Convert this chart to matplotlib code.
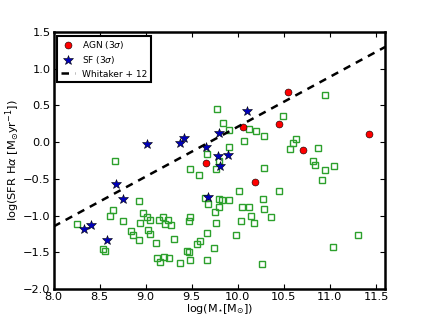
import matplotlib
matplotlib.use("Agg")
import matplotlib.pyplot as plt
import numpy as np

# green open squares (full sample)
all_mass = [
    9.77, 9.84, 9.90, 10.12, 10.20, 10.28, 10.07, 9.91, 9.67, 9.80,
    9.76, 9.48, 9.58, 10.29, 8.67,
    10.95, 10.49, 10.63, 10.60, 10.57, 10.87, 10.82, 10.84, 11.04, 10.95, 10.91,
    8.93, 8.65, 8.61, 8.97, 9.01, 9.05, 8.75, 8.94, 8.26, 9.14, 9.19, 9.21,
    9.24, 8.84, 8.86, 9.03, 9.05, 8.93, 9.11, 8.54, 8.56, 9.12, 9.16, 9.20, 9.25,
    10.01, 10.45, 9.64, 9.80, 9.83, 9.91, 10.27, 9.68, 9.80, 9.75, 10.05, 10.12,
    10.29, 10.14, 10.36, 9.48, 9.47, 9.28, 9.76, 10.04, 10.18, 9.67, 9.98,
    9.31, 9.59, 9.56, 9.74, 9.45, 9.47, 9.37, 9.48, 9.67, 10.26, 11.30, 11.03,
]
all_sfr = [
    0.45, 0.26, 0.16, 0.18, 0.155, 0.08, 0.01, -0.07, -0.16, -0.26,
    -0.37, -0.36, -0.45, -0.35, -0.26,
    0.645, 0.36, 0.04, -0.01, -0.09, -0.08, -0.25, -0.31, -0.32, -0.38, -0.52,
    -0.80, -0.92, -1.01, -0.97, -1.02, -1.06, -1.08, -1.10, -1.11, -1.06, -1.02, -1.11,
    -1.06, -1.21, -1.26, -1.20, -1.25, -1.34, -1.37, -1.455, -1.48, -1.58, -1.63, -1.57, -1.58,
    -0.67, -0.67, -0.76, -0.77, -0.79, -0.79, -0.78, -0.84, -0.88, -0.95, -0.88, -0.88,
    -0.91, -1.00, -1.02, -1.02, -1.07, -1.13, -1.10, -1.07, -1.10, -1.24, -1.27,
    -1.32, -1.35, -1.39, -1.44, -1.48, -1.50, -1.65, -1.61, -1.61, -1.66, -1.26, -1.43,
]

agn_mass = [9.65, 10.06, 10.45, 10.55, 10.19, 10.71, 11.42]
agn_sfr = [-0.28, 0.20, 0.25, 0.69, -0.545, -0.11, 0.11]

sf_mass = [9.01, 8.68, 10.10, 9.42, 9.37, 9.80, 9.65, 9.79, 9.89, 9.81,
           8.75, 8.33, 8.41, 8.58, 9.68]
sf_sfr = [-0.03, -0.57, 0.42, 0.06, -0.01, 0.12, -0.06, -0.19, -0.17, -0.32,
          -0.77, -1.18, -1.135, -1.34, -0.75]

# Whitaker et al. 2012 main sequence (z ~ 0.15)
ms_slope = 0.68
ms_norm = 0.55

fig = plt.figure(figsize=(4.28, 3.21), dpi=100)
ax = fig.add_axes([0.125, 0.1, 0.775, 0.8])

ax.plot(all_mass, all_sfr, "s", mfc="none", mec="#2ca02c", ms=4.2, mew=1.0,
        linestyle="none", zorder=2)
ax.plot(agn_mass, agn_sfr, "o", color="red", mec="k", mew=0.4, ms=5,
        linestyle="none", label=r"AGN (3$\sigma$)", zorder=3)
ax.plot(sf_mass, sf_sfr, "*", color="#0000bb", mec="k", mew=0.4, ms=7,
        linestyle="none", label=r"SF (3$\sigma$)", zorder=4)

xx = np.linspace(8.0, 11.6, 50)
ax.plot(xx, ms_slope * (xx - 10.5) + ms_norm, "k--", lw=1.8,
        dashes=(3, 2.5), label="Whitaker + 12", zorder=5)

ax.set_xlim(8.0, 11.6)
ax.set_ylim(-2.0, 1.5)
ax.set_xticks(np.arange(8.0, 11.51, 0.5))
ax.set_yticks(np.arange(-2.0, 1.51, 0.5))
ax.tick_params(direction="in", top=True, right=True, length=3.5, width=0.8,
               labelsize=8.2, pad=2)
for s in ax.spines.values():
    s.set_linewidth(1.8)

ax.set_xlabel(r"log(M$_{\star}$[M$_{\odot}$])", fontsize=8, labelpad=0)
ax.set_ylabel(r"log(SFR H$\alpha$ [M$_{\odot}$yr$^{-1}$])", fontsize=8.2,
              labelpad=1)

leg = ax.legend(loc="upper left", numpoints=1, fontsize=6.5, fancybox=False,
                borderaxespad=0.4, handlelength=1.6, handletextpad=0.8,
                labelspacing=0.35, borderpad=0.4, framealpha=1)
leg.get_frame().set_edgecolor("k")
leg.get_frame().set_linewidth(1.5)

fig.savefig("out.png", dpi=100)
